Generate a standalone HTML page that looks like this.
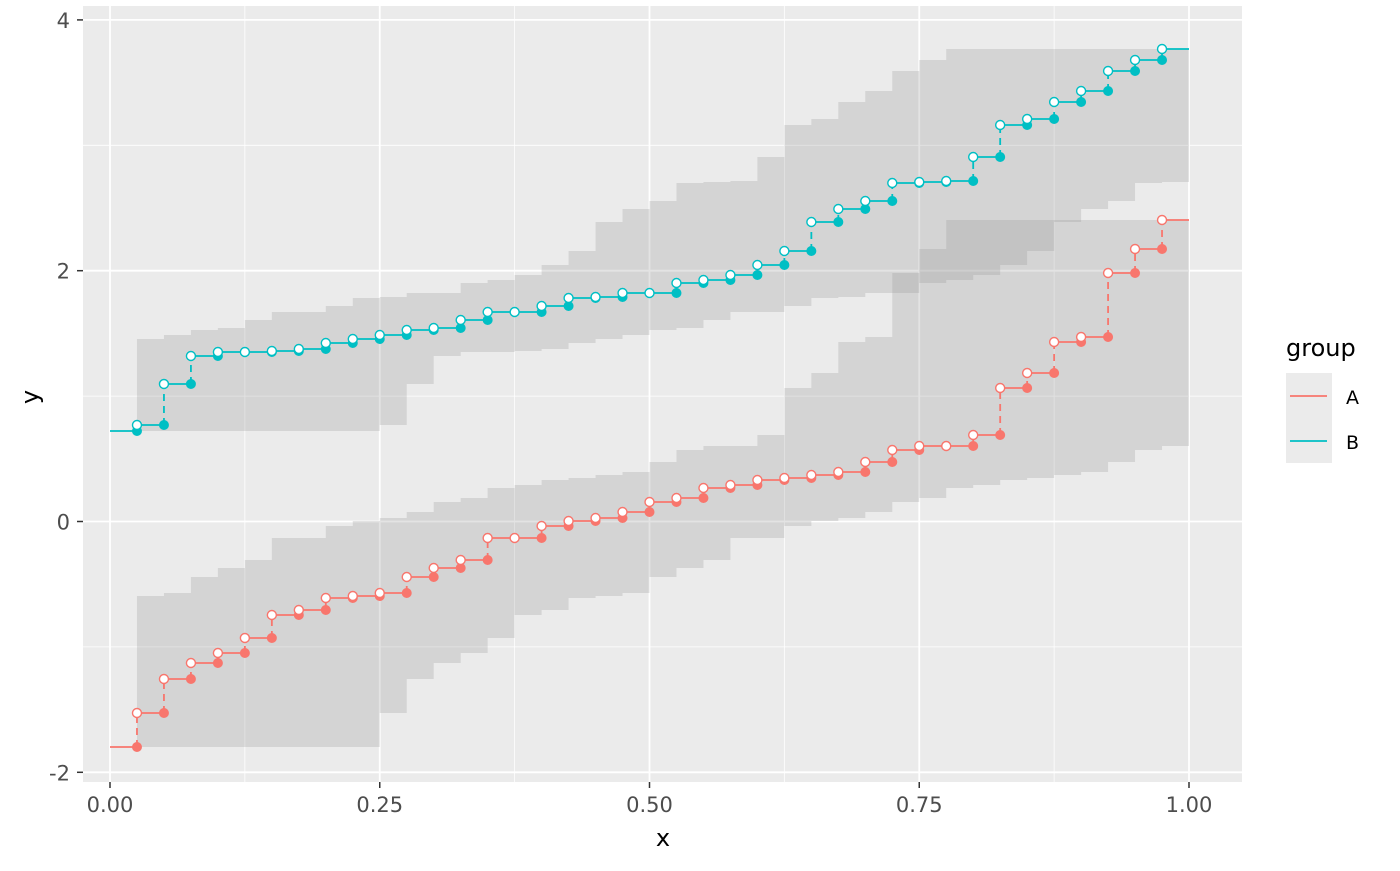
<!DOCTYPE html>
<html><head><meta charset="utf-8"><style>
body{margin:0;background:#fff;}
svg text{font-family:"DejaVu Sans","Liberation Sans",sans-serif;}
</style></head><body>
<svg id="s" width="1400" height="866" xmlns="http://www.w3.org/2000/svg"></svg>
<script>
const s=document.getElementById('s');
const X=v=>110+1079*v, Y=v=>521.5-125.4*v;
let h='';
h+='<rect x="83" y="6" width="1159" height="776" fill="#EBEBEB"/>';
[0.125,0.375,0.625,0.875].forEach(v=>h+=`<line x1="${X(v)}" x2="${X(v)}" y1="6" y2="782" stroke="#fff" stroke-width="0.8"/>`);
[-1,1,3].forEach(v=>h+=`<line y1="${Y(v)}" y2="${Y(v)}" x1="83" x2="1242" stroke="#fff" stroke-width="0.8"/>`);
[0,0.25,0.5,0.75,1].forEach(v=>h+=`<line x1="${X(v)}" x2="${X(v)}" y1="6" y2="782" stroke="#fff" stroke-width="1.8"/>`);
[-2,0,2,4].forEach(v=>h+=`<line y1="${Y(v)}" y2="${Y(v)}" x1="83" x2="1242" stroke="#fff" stroke-width="1.8"/>`);
const B=[431,425,384,356,352,352,351,349,343,339,335,330,328,320,312,312,306,298,297,293,293,283,280,275,265,251,222,209,201,183,182,181,157,125,119,102,91,71,60,49];
const A=[747,713,679,663,653,638,615,610,598,596,593,577,568,560,538,538,526,521,518,512,502,498,488,485,480,478,475,472,462,450,446,446,435,388,373,342,337,273,249,220];
const xp=i=>X(i*0.025);
function band(v){let top=[],bot=[];
 for(let i=1;i<=39;i++){const u=v[Math.min(i+8,39)],l=v[Math.max(i-9,0)];
  top.push([xp(i),u],[xp(i+1),u]);bot.push([xp(i),l],[xp(i+1),l]);}
 const pts=top.concat(bot.reverse()).map(p=>p.join(',')).join(' ');
 return `<polygon points="${pts}" fill="rgba(153,153,153,0.27)"/>`;}
h+=band(A)+band(B);
function series(v,c){let d=`M${X(0)},${v[0]}`;let g='';
 for(let i=1;i<=39;i++){d+=` H${xp(i)}`;g+=`<line x1="${xp(i)}" x2="${xp(i)}" y1="${v[i-1]}" y2="${v[i]}" stroke="${c}" stroke-width="1.8" stroke-dasharray="7,5"/>`;d+=` M${xp(i)},${v[i]}`;}
 d+=` H${X(1)}`;
 let p=`<path d="${d}" stroke="${c}" stroke-width="1.8" fill="none"/>`+g;
 for(let i=1;i<=39;i++){p+=`<circle cx="${xp(i)}" cy="${v[i-1]}" r="5" fill="${c}"/>`;p+=`<circle cx="${xp(i)}" cy="${v[i]}" r="4.5" fill="#fff" stroke="${c}" stroke-width="1.4"/>`;}
 return p;}
h+=series(A,'#F8766D')+series(B,'#00BFC4');
[[0,'0.00'],[0.25,'0.25'],[0.5,'0.50'],[0.75,'0.75'],[1,'1.00']].forEach(([v,t])=>{h+=`<line x1="${X(v)}" x2="${X(v)}" y1="782" y2="788" stroke="#333" stroke-width="1.5"/><text x="${X(v)}" y="812" font-size="21" fill="#4D4D4D" text-anchor="middle">${t}</text>`;});
[[-2,'-2'],[0,'0'],[2,'2'],[4,'4']].forEach(([v,t])=>{h+=`<line x1="77" x2="83" y1="${Y(v)}" y2="${Y(v)}" stroke="#333" stroke-width="1.5"/><text x="70" y="${Y(v)+8}" font-size="21" fill="#4D4D4D" text-anchor="end">${t}</text>`;});
h+=`<text x="663" y="846" font-size="24" text-anchor="middle">x</text>`;
h+=`<text transform="translate(38,397) rotate(-90)" font-size="24" text-anchor="middle">y</text>`;
h+=`<text x="1286" y="356" font-size="24">group</text>`;
h+=`<rect x="1286" y="373" width="46" height="45" fill="#EBEBEB"/><rect x="1286" y="418" width="46" height="45" fill="#EBEBEB"/>`;
h+=`<line x1="1290" x2="1327" y1="396" y2="396" stroke="#F8766D" stroke-width="1.8"/><line x1="1290" x2="1327" y1="441" y2="441" stroke="#00BFC4" stroke-width="1.8"/>`;
h+=`<text x="1346" y="404" font-size="19">A</text><text x="1346" y="449" font-size="19">B</text>`;
s.innerHTML=h;
</script>
</body></html>
